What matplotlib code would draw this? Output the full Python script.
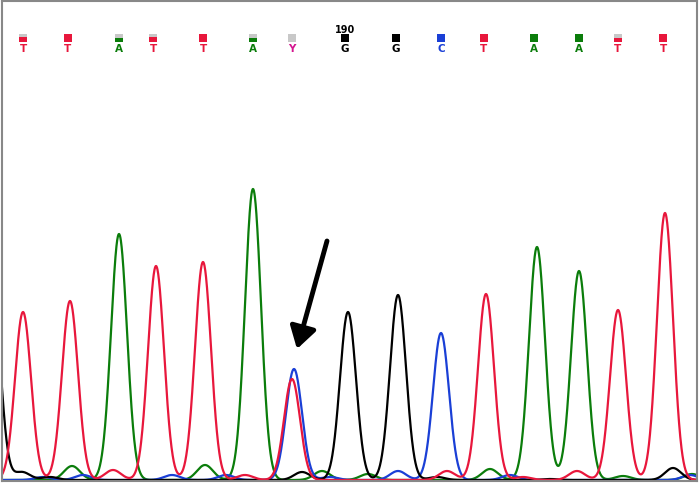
import numpy as np
import matplotlib
matplotlib.use('Agg')
import matplotlib.pyplot as plt
from matplotlib.patches import Rectangle

# called bases along the top of the trace
bases = ['T', 'T', 'A', 'T', 'T', 'A', 'Y', 'G', 'G', 'C', 'T', 'A', 'A', 'T', 'T']
base_pos = [23, 68, 119, 153, 203, 253, 292, 345, 396, 441, 484, 534, 579, 618, 663]
# coloured fraction of each quality box (rest is grey)
base_qual = [0.6, 1.0, 0.5, 0.6, 1.0, 0.5, 0.0, 1.0, 1.0, 1.0, 1.0, 1.0, 1.0, 0.55, 1.0]
numbered_base = 7
numbered_label = '190'

# peaks per channel: scan position, height
t_pos = [23, 70, 156, 203, 292, 486, 618, 665, 113, 245, 447, 523, 577]
t_amp = [168, 179, 214, 218, 101, 186, 170, 267, 10, 5, 9, 3, 9]
a_pos = [119, 253, 537, 579, 72, 205, 322, 368, 490, 623, 692]
a_amp = [246, 291, 233, 209, 14, 15, 9, 6, 11, 4, 6]
c_pos = [294, 441, 43, 83, 172, 226, 330, 398, 510, 690]
c_amp = [111, 147, 3, 5, 5, 5, 3, 9, 5, 5]
g_pos = [-8, 348, 398, 22, 50, 302, 437, 550, 673]
g_amp = [200, 168, 185, 8, 3, 8, 3, 1, 12]

colors = {'T': '#e8173c', 'A': '#0b7d0b', 'C': '#1a3fd6', 'G': '#000000', 'Y': '#d4168f'}
grey = '#c8c8c8'

def trace(x, pos, amp, sigma=8.0):
    y = np.zeros_like(x)
    for p, a in zip(pos, amp):
        y += a * np.exp(-(x - p) ** 2 / (2 * sigma ** 2))
    return y

fig = plt.figure(figsize=(7, 4.85), dpi=100)
ax = fig.add_axes([2 / 700, 3 / 485, 695 / 700, 480 / 485])
ax.set_xlim(2, 697)
ax.set_ylim(-1, 479)

x = np.linspace(-20, 720, 3000)
for pos, amp, b in [(a_pos, a_amp, 'A'), (c_pos, c_amp, 'C'),
                    (g_pos, g_amp, 'G'), (t_pos, t_amp, 'T')]:
    ax.plot(x, trace(x, pos, amp), color=colors[b], lw=1.6)

# base calls with quality boxes
for b, p, q in zip(bases, base_pos, base_qual):
    ax.text(p, 432, b, color=colors[b], fontsize=7.5, fontweight='bold',
            ha='center', va='center', family='DejaVu Sans')
    h = 8.0
    ax.add_patch(Rectangle((p - 4, 438), 8, h, color=grey, lw=0))
    if q > 0:
        ax.add_patch(Rectangle((p - 4, 438), 8, h * q, color=colors[b], lw=0))
ax.text(base_pos[numbered_base], 451, numbered_label, fontsize=7, fontweight='bold',
        ha='center', va='center')

# arrow pointing at the mixed peak
ax.annotate('', xy=(297, 131), xytext=(327, 239),
            arrowprops=dict(arrowstyle='-|>,head_length=1.3,head_width=0.8',
                            lw=3.5, color='black', shrinkA=0, shrinkB=0))

ax.set_xticks([])
ax.set_yticks([])
for s in ax.spines.values():
    s.set_color('#888888')
    s.set_linewidth(1.5)

fig.savefig('out.png', dpi=100)
